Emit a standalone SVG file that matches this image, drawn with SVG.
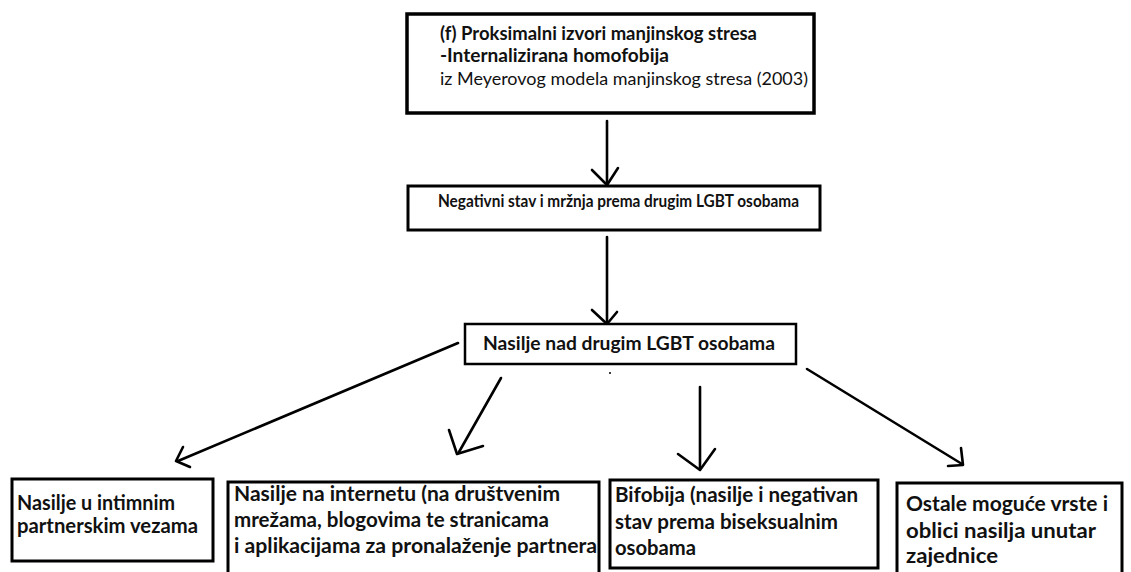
<svg xmlns="http://www.w3.org/2000/svg" width="1131" height="572" viewBox="0 0 1131 572">
<defs>
<style>
.box{fill:#fff;stroke:#000;stroke-width:3}
.t{font-family:Lato,"Open Sans","Liberation Sans",sans-serif;fill:#111}
.b{font-weight:bold}
.c{fill:none;stroke:#000;stroke-width:2.6;stroke-linecap:round;stroke-linejoin:round}
</style>
</defs>
<rect width="1131" height="572" fill="#fff"/>
<g id="connectors">
<line class="c" x1="607" y1="121" x2="607" y2="185"/>
<polyline class="c" points="592,170 607,185 618,168"/>
<line class="c" x1="607" y1="237" x2="607" y2="322"/>
<polyline class="c" points="592,310 607,324 617,312"/>
<line class="c" x1="458" y1="343" x2="178" y2="461"/>
<polyline class="c" points="183,447 176,461 190,467"/>
<line class="c" x1="501" y1="378" x2="459" y2="452"/>
<polyline class="c" points="449,430 457,454 483,446"/>
<line class="c" x1="700" y1="387" x2="700" y2="468"/>
<polyline class="c" points="678,454 700,470 715,449"/>
<line class="c" x1="807" y1="369" x2="962" y2="464"/>
<polyline class="c" points="961,448 963,465 948,466"/>
<circle cx="610" cy="373" r="1" fill="#000"/>
</g>
<g id="n1">
<rect class="box" x="407" y="14" width="407" height="99" style="stroke-width:3.5"/>
<text class="t b" x="440" y="40" font-size="18" textLength="317" lengthAdjust="spacingAndGlyphs">(f) Proksimalni izvori manjinskog stresa</text>
<text class="t b" x="440" y="62" font-size="18" textLength="229" lengthAdjust="spacingAndGlyphs">-Internalizirana homofobija</text>
<text class="t" x="440" y="85" font-size="18" textLength="368" lengthAdjust="spacingAndGlyphs">iz Meyerovog modela manjinskog stresa (2003)</text>
</g>
<g id="n2">
<rect class="box" x="408" y="186" width="412" height="44"/>
<text class="t b" x="438" y="207" font-size="16.5" textLength="361" lengthAdjust="spacingAndGlyphs">Negativni stav i mržnja prema drugim LGBT osobama</text>
</g>
<g id="n3">
<rect class="box" x="465" y="324" width="331" height="40" style="stroke-width:2.5"/>
<text class="t b" x="483" y="350" font-size="19" textLength="292" lengthAdjust="spacingAndGlyphs">Nasilje nad drugim LGBT osobama</text>
</g>
<g id="n4">
<rect class="box" x="12" y="479" width="201" height="82"/>
<text class="t b" x="17" y="510" font-size="20.5" textLength="158" lengthAdjust="spacingAndGlyphs">Nasilje u intimnim</text>
<text class="t b" x="17" y="533" font-size="20.5" textLength="181" lengthAdjust="spacingAndGlyphs">partnerskim vezama</text>
</g>
<g id="n5">
<rect class="box" x="228" y="482" width="371" height="100"/>
<text class="t b" x="234" y="501" font-size="20.5" textLength="326" lengthAdjust="spacingAndGlyphs">Nasilje na internetu (na društvenim</text>
<text class="t b" x="234" y="527" font-size="20.5" textLength="315" lengthAdjust="spacingAndGlyphs">mrežama, blogovima te stranicama</text>
<text class="t b" x="234" y="553" font-size="20.5" textLength="363" lengthAdjust="spacingAndGlyphs">i aplikacijama za pronalaženje partnera</text>
</g>
<g id="n6">
<rect class="box" x="610" y="480" width="268" height="88"/>
<text class="t b" x="615" y="502" font-size="20.5" textLength="243" lengthAdjust="spacingAndGlyphs">Bifobija (nasilje i negativan</text>
<text class="t b" x="615" y="529" font-size="20.5" textLength="223" lengthAdjust="spacingAndGlyphs">stav prema biseksualnim</text>
<text class="t b" x="615" y="555" font-size="20.5" textLength="81" lengthAdjust="spacingAndGlyphs">osobama</text>
</g>
<g id="n7">
<rect class="box" x="897" y="483" width="225" height="100"/>
<text class="t b" x="906" y="511" font-size="20.5" textLength="202" lengthAdjust="spacingAndGlyphs">Ostale moguće vrste i</text>
<text class="t b" x="906" y="538" font-size="20.5" textLength="190" lengthAdjust="spacingAndGlyphs">oblici nasilja unutar</text>
<text class="t b" x="906" y="563" font-size="20.5" textLength="92" lengthAdjust="spacingAndGlyphs">zajednice</text>
</g>
</svg>
